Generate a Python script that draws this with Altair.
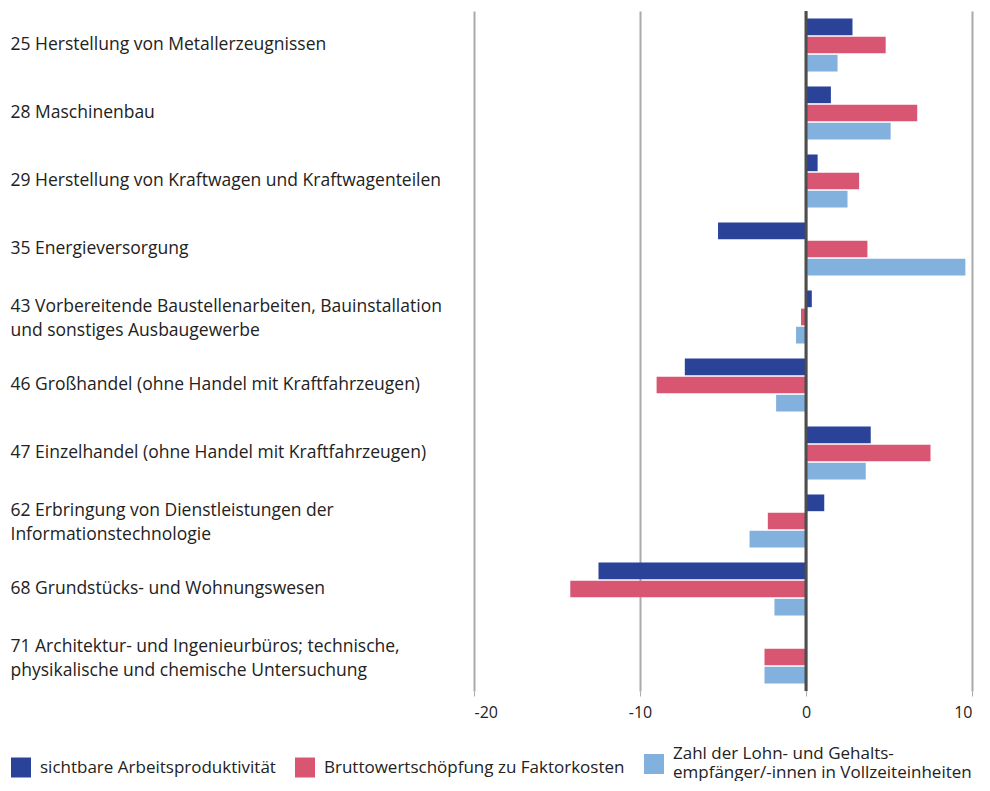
import altair as alt
import pandas as pd

categories = [
    "25 Herstellung von Metallerzeugnissen",
    "28 Maschinenbau",
    "29 Herstellung von Kraftwagen und Kraftwagenteilen",
    "35 Energieversorgung",
    "43 Vorbereitende Baustellenarbeiten, Bauinstallation|und sonstiges Ausbaugewerbe",
    "46 Großhandel (ohne Handel mit Kraftfahrzeugen)",
    "47 Einzelhandel (ohne Handel mit Kraftfahrzeugen)",
    "62 Erbringung von Dienstleistungen der|Informationstechnologie",
    "68 Grundstücks- und Wohnungswesen",
    "71 Architektur- und Ingenieurbüros; technische,|physikalische und chemische Untersuchung",
]
series = [
    "sichtbare Arbeitsproduktivität",
    "Bruttowertschöpfung zu Faktorkosten",
    "Zahl der Lohn- und Gehalts-|empfänger/-innen in Vollzeiteinheiten",
]
produktivitaet = [2.8, 1.5, 0.7, -5.3, 0.35, -7.3, 3.9, 1.1, -12.5, 0.0]
wertschoepfung = [4.8, 6.7, 3.2, 3.7, -0.3, -9.0, 7.5, -2.3, -14.2, -2.5]
beschaeftigte = [1.9, 5.1, 2.5, 9.6, -0.6, -1.8, 3.6, -3.4, -1.9, -2.5]
colors = ["#2a4399", "#d95673", "#82b1de"]
x_ticks = [-20, -10, 0, 10]

rows = []
for vals, s in zip([produktivitaet, wertschoepfung, beschaeftigte], series):
    for c, v in zip(categories, vals):
        rows.append({"cat": c, "series": s, "value": v})
df = pd.DataFrame(rows)

FONT = "Open Sans"

bars = alt.Chart(df).mark_bar().encode(
    x=alt.X(
        "value:Q",
        scale=alt.Scale(domain=[-20, 10], nice=False, zero=False),
        axis=alt.Axis(
            values=x_ticks, title=None, domain=False, ticks=True, tickSize=5,
            tickColor="#aaaaaa", tickWidth=1, grid=True, gridColor="#aaaaaa",
            gridWidth=2, labelFontSize=16, labelColor="#222222", labelFont=FONT,
            labelPadding=8, labelExpr="toString(datum.value)",
        ),
    ),
    y=alt.Y(
        "cat:N",
        sort=categories,
        scale=alt.Scale(paddingInner=0.22, paddingOuter=0.11),
        axis=alt.Axis(
            title=None, domain=False, ticks=False, grid=False, labelAlign="left",
            labelBaseline="middle", labelPadding=464, labelLimit=520,
            labelFontSize=17.5, labelColor="#222222", labelFont=FONT,
            labelLineHeight=24, labelExpr="split(datum.label, '|')",
            labelOffset={"condition": {"test": "indexof(datum.value, '|') >= 0", "value": -10}, "value": 0},
        ),
    ),
    yOffset=alt.YOffset("series:N", sort=series, scale=alt.Scale(paddingInner=0.08)),
    color=alt.Color(
        "series:N",
        sort=series,
        scale=alt.Scale(domain=series, range=colors),
        legend=alt.Legend(
            title=None, orient="none", legendX=-463, legendY=743, direction="horizontal",
            columns=3, symbolType="square", symbolSize=400, symbolStrokeWidth=0,
            labelFontSize=17, labelColor="#222222", labelFont=FONT, labelLimit=400,
            labelExpr="split(datum.label, '|')",
            labelBaseline=alt.ExprRef("indexof(datum.value, '|') >= 0 ? 'line-bottom' : 'middle'"),
            columnPadding=19, labelOffset=9,
        ),
    ),
)

zero = alt.Chart(pd.DataFrame({"x": [0]})).mark_rule(color="#4d4d4d", strokeWidth=3).encode(
    x="x:Q"
)

chart = (
    alt.layer(bars, zero)
    .properties(
        width=498,
        height=680,
        autosize=alt.AutoSizeParams(type="none"),
        padding={"left": 466, "top": 3, "right": 10, "bottom": 90},
    )
    .configure_view(stroke=None)
)

chart.save("out.html", embed_options={"renderer": "svg", "actions": False})
